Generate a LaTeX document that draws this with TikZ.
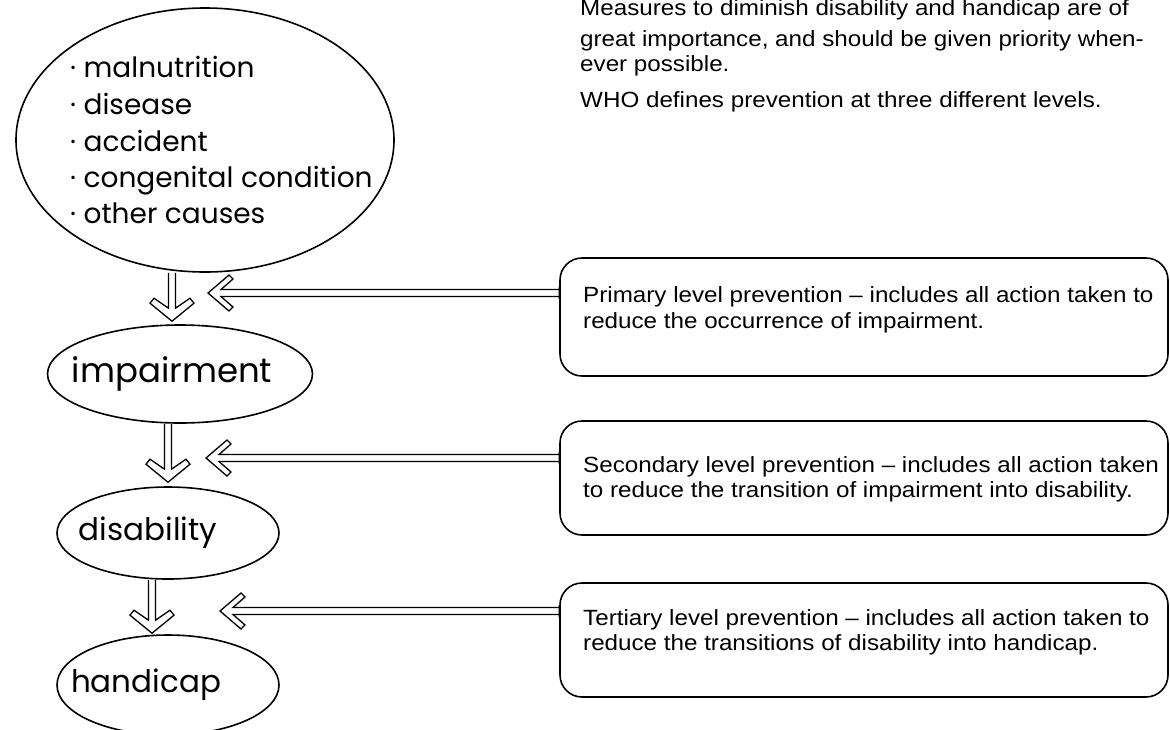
\documentclass[tikz,border=0pt]{standalone}
\usepackage{fontspec}
\setmainfont{Liberation Sans}[FakeStretch=1.1]
\newfontfamily\handfont{Poppins}
\usetikzlibrary{shapes.geometric,calc}
\tikzset{
  bubble/.style={ellipse, draw, line width=1.6pt, inner sep=0pt},
  hand/.style={font=\handfont\fontsize{28}{34}\selectfont, inner sep=0pt},
  bighand/.style={font=\handfont\fontsize{31}{37}\selectfont, inner sep=0pt},
  levelbox/.style={draw, line width=1.6pt, rounded corners=22pt, inner sep=0pt},
  typed/.style={font=\fontsize{22}{26}\selectfont, inner sep=0pt, anchor=base west},
  downarrow/.style={draw, line width=1.3pt, line join=miter,
    to path={let \p1=(\tikztostart), \p2=(\tikztotarget) in
      (\x1-3.5pt,\y1) -- (\x1-3.5pt,\y2+13pt) -- (\x1-18pt,\y2+23pt) -- (\x1-22pt,\y2+18pt)
      -- (\x1,\y2) -- (\x1+22pt,\y2+18pt) -- (\x1+18pt,\y2+23pt) -- (\x1+3.5pt,\y2+13pt)
      -- (\x1+3.5pt,\y1)}},
  leftarrow/.style={draw, line width=1.3pt, line join=miter,
    to path={let \p1=(\tikztostart), \p2=(\tikztotarget) in
      (\x1,\y1+3.5pt) -- (\x2+13pt,\y1+3.5pt) -- (\x2+25pt,\y1+14pt) -- (\x2+21pt,\y1+18pt)
      -- (\x2,\y1) -- (\x2+21pt,\y1-18pt) -- (\x2+25pt,\y1-14pt) -- (\x2+13pt,\y1-3.5pt)
      -- (\x1,\y1-3.5pt)
      (\x1,\y1+6pt) -- (\x1,\y1-6pt)}}
}
\begin{document}
\begin{tikzpicture}[x=1pt,y=-1pt]
\useasboundingbox (0,0) rectangle (1170,729);

% top text (first line cut by the page edge, as in the original scan)
\begin{scope}
\clip (0,0) rectangle (1170,729);
\node[typed] (m1) at (580,15) {Measures to diminish disability and handicap are of};
\node[typed] (m2) at (580,46) {great importance, and should be given priority when-};
\node[typed] (m3) at (580,71) {ever possible.};
\node[typed] (m4) at (580,107) {WHO defines prevention at three different levels.};
\end{scope}

% causes
\node[bubble, minimum width=378, minimum height=264] (causes) at (205,140) {};
\node[hand, anchor=base west] (c1) at (70,77) {· malnutrition};
\node[hand, anchor=base west] (c2) at (70,114) {· disease};
\node[hand, anchor=base west] (c3) at (70,151) {· accident};
\node[hand, anchor=base west] (c4) at (70,187) {· congenital condition};
\node[hand, anchor=base west] (c5) at (70,223) {· other causes};

% chain
\node[bubble, minimum width=265, minimum height=98,
  label={[bighand, xshift=-8, font=\handfont\fontsize{34}{40}\selectfont]center:impairment}] (imp) at (180,374) {};
\node[bubble, minimum width=222, minimum height=92,
  label={[bighand, xshift=-20]center:disability}] (dis) at (168,533) {};
\node[bubble, minimum width=222, minimum height=100,
  label={[bighand, xshift=-22]center:handicap}] (hand) at (168,685) {};

\coordinate (t1) at ($(imp.north)+(-8,-3)$);
\coordinate (t2) at ($(dis.north)+(0,-4)$);
\coordinate (t3) at ($(hand.north)+(-16,-1)$);
\draw[downarrow] (causes.south -| t1) to (t1);
\draw[downarrow] (imp.south -| t2) to (t2);
\draw[downarrow] (dis.south -| t3) to (t3);

% prevention boxes
\node[levelbox, minimum width=608, minimum height=118] (prim) at (864,317) {};
\node[levelbox, minimum width=608, minimum height=114] (sec) at (864,478) {};
\node[levelbox, minimum width=608, minimum height=114] (ter) at (864,640) {};

\node[typed] (p1) at (583,302) {Primary level prevention -- includes all action taken to};
\node[typed] (p2) at (583,328) {reduce the occurrence of impairment.};
\node[typed] (s1) at (583,472) {Secondary level prevention -- includes all action taken};
\node[typed] (s2) at (583,497) {to reduce the transition of impairment into disability.};
\node[typed] (q1) at (583,625) {Tertiary level prevention -- includes all action taken to};
\node[typed] (q2) at (583,650) {reduce the transitions of disability into handicap.};

\coordinate (tipA) at (208,293);
\coordinate (tipB) at (206,458);
\coordinate (tipC) at (220,611);
\draw[leftarrow] (prim.west |- tipA) to (tipA);
\draw[leftarrow] (sec.west |- tipB) to (tipB);
\draw[leftarrow] (ter.west |- tipC) to (tipC);
\end{tikzpicture}
\end{document}
